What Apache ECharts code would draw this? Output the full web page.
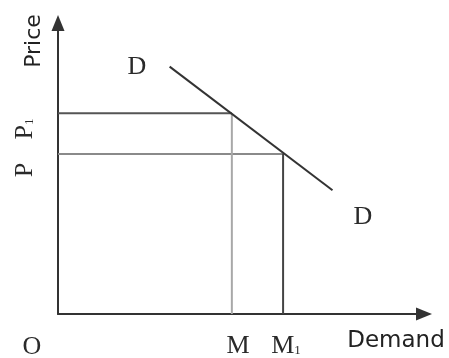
<!DOCTYPE html>
<html>
<head>
<meta charset="utf-8">
<script src="https://cdn.jsdelivr.net/npm/echarts@6/dist/echarts.min.js"></script>
<style>
html,body{margin:0;padding:0;background:#fff;}
#chart{width:449px;height:358px;}
</style>
</head>
<body>
<div id="chart"></div>
<script>
// demand curve D-D (two end points)
var demandX = [3.05, 7.5];
var demandY = [8.5, 4.25];
// quantities M, M1 and prices P1, P
var qtyNames = ['M', 'M1'];
var qty = [4.75, 6.15];
var priceNames = ['P1', 'P'];
var price = [6.9, 5.5];

var chart = echarts.init(document.getElementById('chart'));

function seg(a, b, color) {
	return {
		type: 'line',
		data: [a, b],
		symbol: 'none',
		silent: true,
		lineStyle: {color: color, width: 2},
		animation: false
	};
}

var series = [];
// horizontals from price axis to the curve
series.push(seg([0, price[0]], [qty[0], price[0]], '#555'));
series.push(seg([0, price[1]], [qty[1], price[1]], '#8a8a8a'));
// verticals down to the quantity axis
series.push(seg([qty[0], price[0]], [qty[0], 0], '#a8a8a8'));
series.push(seg([qty[1], price[1]], [qty[1], 0], '#444'));
// demand line
series.push({
	type: 'line',
	data: [[demandX[0], demandY[0]], [demandX[1], demandY[1]]],
	symbol: 'none',
	silent: true,
	lineStyle: {color: '#333', width: 2},
	animation: false
});

var serif = 'Liberation Serif';
var sans = 'DejaVu Sans';
var sub = {p: {font: '26px ' + serif, fill: '#2a2a2a'}, s: {font: '13px ' + serif, fill: '#2a2a2a', padding: [10, 0, 0, 0]}};

option = {
	animation: false,
	grid: {left: 58, right: 25, top: 23, bottom: 44},
	xAxis: {
		type: 'value', min: 0, max: 10,
		axisLine: {show: true, onZero: false, symbol: ['none', 'triangle'], symbolSize: [13, 16], lineStyle: {color: '#333', width: 2}},
		axisTick: {show: false}, axisLabel: {show: false}, splitLine: {show: false}
	},
	yAxis: {
		type: 'value', min: 0, max: 10,
		axisLine: {show: true, onZero: false, symbol: ['none', 'triangle'], symbolSize: [13, 16], lineStyle: {color: '#333', width: 2}},
		axisTick: {show: false}, axisLabel: {show: false}, splitLine: {show: false}
	},
	graphic: [
		{type: 'text', x: 34, y: 41, rotation: Math.PI / 2,
			style: {text: 'Price', font: '22px ' + sans, fill: '#222', align: 'center', verticalAlign: 'middle'}},
		{type: 'text', x: 25, y: 170, rotation: Math.PI / 2,
			style: {text: priceNames[1], font: '26px ' + serif, fill: '#2a2a2a', align: 'center', verticalAlign: 'middle'}},
		{type: 'text', x: 25, y: 129, rotation: Math.PI / 2,
			style: {text: '{p|P}{s|1}', align: 'center', verticalAlign: 'middle', rich: sub}},
		{type: 'text', x: 32, y: 347,
			style: {text: 'O', font: '26px ' + serif, fill: '#2a2a2a', align: 'center', verticalAlign: 'middle'}},
		{type: 'text', x: 238, y: 346,
			style: {text: qtyNames[0], font: '26px ' + serif, fill: '#2a2a2a', align: 'center', verticalAlign: 'middle'}},
		{type: 'text', x: 286, y: 346,
			style: {text: '{p|M}{s|1}', align: 'center', verticalAlign: 'middle', rich: sub}},
		{type: 'text', x: 137, y: 67,
			style: {text: 'D', font: '26px ' + serif, fill: '#2a2a2a', align: 'center', verticalAlign: 'middle'}},
		{type: 'text', x: 363, y: 217,
			style: {text: 'D', font: '26px ' + serif, fill: '#2a2a2a', align: 'center', verticalAlign: 'middle'}},
		{type: 'text', x: 396, y: 341,
			style: {text: 'Demand', font: '23px ' + sans, fill: '#222', align: 'center', verticalAlign: 'middle'}}
	],
	series: series
};
chart.setOption(option);
</script>
</body>
</html>
